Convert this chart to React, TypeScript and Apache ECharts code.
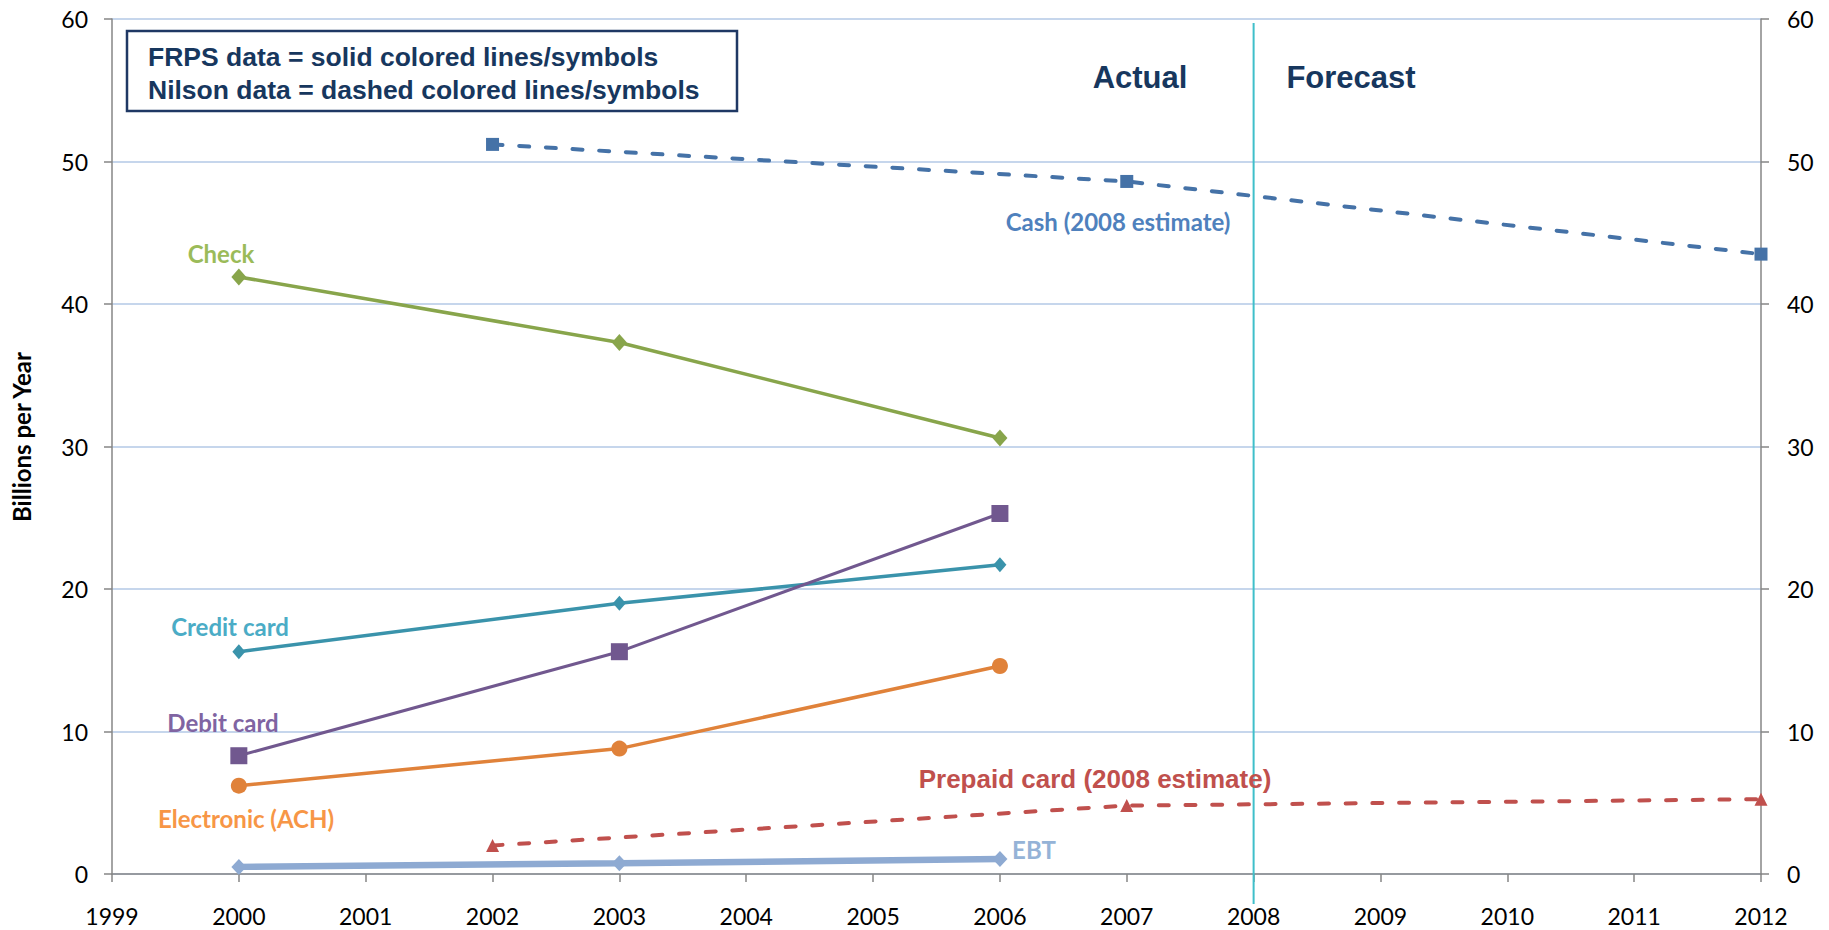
import React, { useEffect, useRef } from "react";
import * as echarts from "echarts";

// FRPS data (solid)
const frpsYears = [2000, 2003, 2006];
const checkValues = [41.9, 37.3, 30.6];
const creditValues = [15.6, 19.0, 21.7];
const debitValues = [8.3, 15.6, 25.3];
const achValues = [6.2, 8.8, 14.6];
const ebtValues = [0.5, 0.75, 1.05];

// Nilson data (dashed)
const nilsonYears = [2002, 2007, 2012];
const cashValues = [51.2, 48.6, 43.5];
const prepaidValues = [2.0, 4.8, 5.25];

const xMin = 1999;
const xMax = 2012;
const yMin = 0;
const yMax = 60;
const yStep = 10;
const dividerYear = 2008;

const CAL = "Lato, 'Open Sans', sans-serif";
const ARIAL = "'Liberation Sans', Arial, sans-serif";
const AXIS_GRAY = "#868686";

function pairs(xs: number[], ys: number[]) {
  return xs.map((x, i) => [x, ys[i]]);
}

function lineSeries(
  name: string,
  xs: number[],
  ys: number[],
  color: string,
  symbol: string,
  size: number | number[],
  width: number,
  dashed: boolean
) {
  return {
    name,
    type: "line",
    data: pairs(xs, ys),
    symbol,
    symbolSize: size,
    showSymbol: true,
    lineStyle: dashed
      ? { color, width, type: [10, 16.7], cap: "round" }
      : { color, width, type: "solid" },
    itemStyle: { color, borderWidth: 0 },
    emphasis: { disabled: true },
    z: 3,
  };
}

export default function App() {
  const ref = useRef<HTMLDivElement>(null);

  useEffect(() => {
    if (!ref.current) return;
    const chart = echarts.init(ref.current, null, { renderer: "svg" });
    const option: any = {
      animation: false,
      backgroundColor: "#ffffff",
      grid: { left: 112, right: 68, top: 19, bottom: 56, containLabel: false },
      xAxis: {
        type: "value",
        min: xMin,
        max: xMax,
        interval: 1,
        axisLine: { show: true, onZero: false, lineStyle: { color: AXIS_GRAY, width: 1.5 } },
        axisTick: { show: true, length: 8, lineStyle: { color: AXIS_GRAY, width: 1.5 } },
        axisLabel: {
          formatter: (v: number) => String(v),
          margin: 30,
          fontFamily: CAL,
          fontSize: 23,
          color: "#000",
        },
        splitLine: { show: false },
      },
      yAxis: [
        {
          type: "value",
          min: yMin,
          max: yMax,
          interval: yStep,
          position: "left",
          axisLine: { show: true, lineStyle: { color: AXIS_GRAY, width: 1.5 } },
          axisTick: { show: true, length: 8, lineStyle: { color: AXIS_GRAY, width: 1.5 } },
          axisLabel: { margin: 24, fontFamily: CAL, fontSize: 23, color: "#000" },
          splitLine: { show: true, lineStyle: { color: "#b3c9e6", width: 1.5 } },
        },
        {
          type: "value",
          min: yMin,
          max: yMax,
          interval: yStep,
          position: "right",
          axisLine: { show: true, lineStyle: { color: AXIS_GRAY, width: 1.5 } },
          axisTick: { show: true, length: 8, lineStyle: { color: AXIS_GRAY, width: 1.5 } },
          axisLabel: { margin: 26, fontFamily: CAL, fontSize: 23, color: "#000" },
          splitLine: { show: false },
        },
      ],
      series: [
        lineSeries("Cash (2008 estimate)", nilsonYears, cashValues, "#4572a7", "rect", 13, 4, true),
        lineSeries("Prepaid card (2008 estimate)", nilsonYears, prepaidValues, "#c0504d", "triangle", 13, 4, true),
        lineSeries("EBT", frpsYears, ebtValues, "#8eaad2", "diamond", [15, 16], 6.5, false),
        lineSeries("Electronic (ACH)", frpsYears, achValues, "#e0823a", "circle", 16, 3.5, false),
        lineSeries("Credit card", frpsYears, creditValues, "#3a93ab", "diamond", [13, 15], 3.5, false),
        lineSeries("Debit card", frpsYears, debitValues, "#71588f", "rect", 17, 3, false),
        lineSeries("Check", frpsYears, checkValues, "#88a54b", "diamond", [15, 17], 3.5, false),
      ],
    };
    chart.setOption(option);

    const xDiv = chart.convertToPixel({ xAxisIndex: 0 }, dividerYear) as number;
    const yTopPx = chart.convertToPixel({ yAxisIndex: 0 }, yMax) as number;
    const yZeroPx = chart.convertToPixel({ yAxisIndex: 0 }, yMin) as number;

    const label = (text: string, x: number, y: number, color: string, font: string) => ({
      type: "text",
      x,
      y,
      silent: true,
      z: 10,
      style: {
        text,
        fill: color,
        font,
        align: "center",
        verticalAlign: "middle",
        textAlign: "center",
        textVerticalAlign: "middle",
      },
    });

    const legendLine = (text: string, y: number) => ({
      type: "text",
      x: 148,
      y,
      silent: true,
      z: 11,
      style: {
        text,
        fill: "#17375e",
        font: `bold 26.5px ${ARIAL}`,
        align: "left",
        verticalAlign: "middle",
        textAlign: "left",
        textVerticalAlign: "middle",
      },
    });

    chart.setOption({
      graphic: [
        {
          type: "line",
          silent: true,
          z: 5,
          shape: { x1: xDiv, y1: yTopPx + 4, x2: xDiv, y2: yZeroPx + 30 },
          style: { stroke: "#3fbfca", lineWidth: 2 },
        },
        {
          type: "rect",
          silent: true,
          z: 10,
          shape: { x: 127, y: 31, width: 610, height: 80 },
          style: { fill: "#ffffff", stroke: "#1f3864", lineWidth: 2.5 },
        },
        legendLine("FRPS data = solid colored lines/symbols", 57),
        legendLine("Nilson data = dashed colored lines/symbols", 90),
        {
          type: "text",
          x: 21,
          y: 437,
          rotation: Math.PI / 2,
          silent: true,
          z: 10,
          style: {
            text: "Billions per Year",
            fill: "#000",
            font: `bold 24px ${CAL}`,
            align: "center",
            verticalAlign: "middle",
            textAlign: "center",
            textVerticalAlign: "middle",
          },
        },
        label("Actual", 1140, 77, "#17375e", `bold 31px ${ARIAL}`),
        label("Forecast", 1351, 77, "#17375e", `bold 31px ${ARIAL}`),
        label("Check", 221, 253, "#9bbb59", `bold 24px ${CAL}`),
        label("Cash (2008 estimate)", 1118, 221, "#4f81bd", `bold 24px ${CAL}`),
        label("Credit card", 230, 626, "#4bacc6", `bold 24px ${CAL}`),
        label("Debit card", 223, 722, "#8064a2", `bold 24px ${CAL}`),
        label("Electronic (ACH)", 246, 818, "#f79646", `bold 24px ${CAL}`),
        label("EBT", 1034, 849, "#95b3d7", `bold 24px ${CAL}`),
        label("Prepaid card (2008 estimate)", 1095, 779, "#c0504d", `bold 26px ${ARIAL}`),
      ],
    });

    return () => {
      chart.dispose();
    };
  }, []);

  return (
    <div
      ref={ref}
      style={{ position: "fixed", left: 0, top: 0, width: "1829px", height: "930px", background: "#fff" }}
    />
  );
}
